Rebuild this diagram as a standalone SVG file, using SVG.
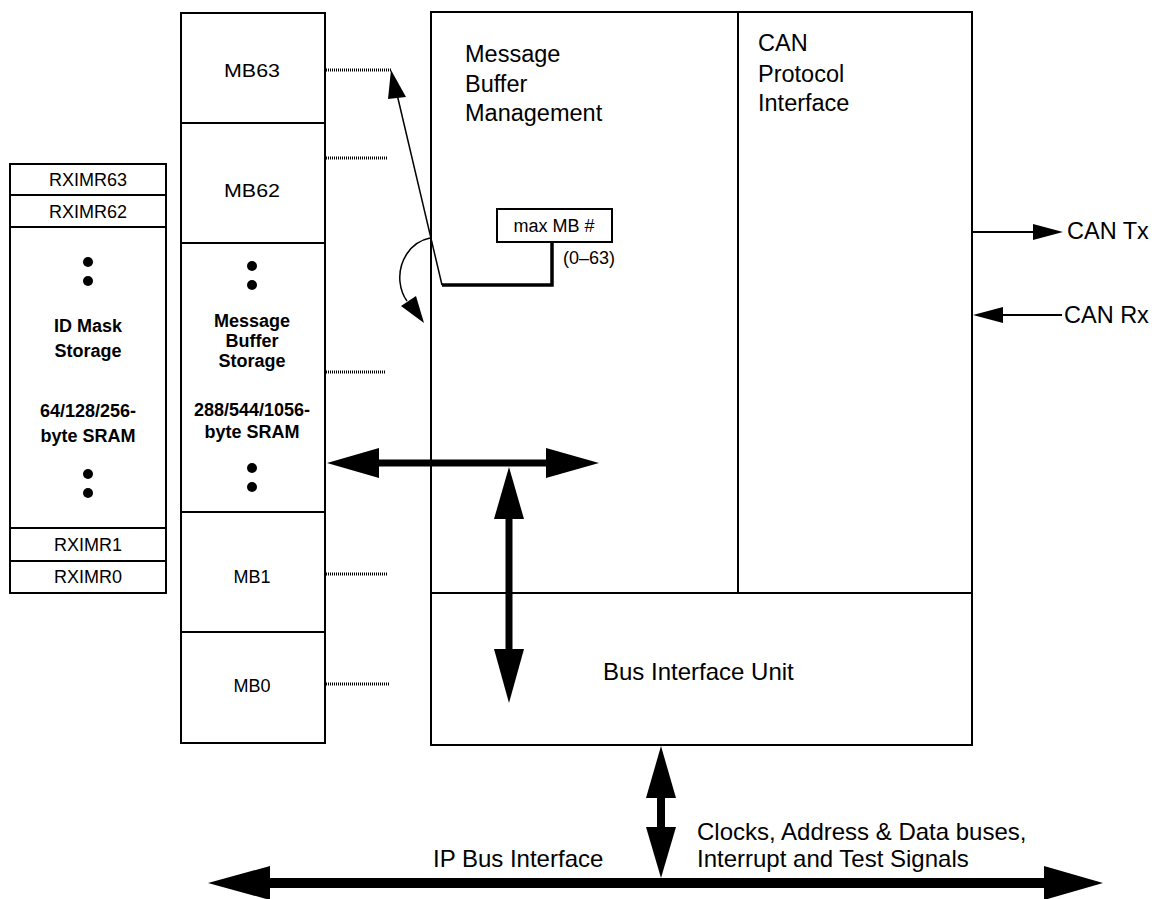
<svg xmlns="http://www.w3.org/2000/svg" width="1156" height="899" viewBox="0 0 1156 899">
<style>
.box{fill:#fff;stroke:#000;stroke-width:2}
.ln{stroke:#000;stroke-width:2;fill:none}
.dot{stroke:#000;stroke-width:3;stroke-dasharray:1 1;fill:none}
.t{font-family:"Liberation Sans",Arial,sans-serif;fill:#000}
.s{font-size:18px;text-anchor:middle}
.b{font-size:18px;font-weight:bold;text-anchor:middle}
.L{font-size:23.5px}
</style>
<g id="idmask">
<rect class="box" x="10" y="164" width="156" height="429"/>
<line class="ln" x1="10" y1="195" x2="166" y2="195"/>
<line class="ln" x1="10" y1="227" x2="166" y2="227"/>
<line class="ln" x1="10" y1="528" x2="166" y2="528"/>
<line class="ln" x1="10" y1="561" x2="166" y2="561"/>
<text class="t s" x="88" y="186">RXIMR63</text>
<text class="t s" x="88" y="218">RXIMR62</text>
<text class="t s" x="88" y="551">RXIMR1</text>
<text class="t s" x="88" y="583">RXIMR0</text>
<circle cx="88" cy="262" r="5"/><circle cx="88" cy="281" r="5"/>
<circle cx="88" cy="474" r="5"/><circle cx="88" cy="493" r="5"/>
<text class="t b" x="88" y="332">ID Mask</text>
<text class="t b" x="88" y="357">Storage</text>
<text class="t b" x="88" y="417">64/128/256-</text>
<text class="t b" x="88" y="442">byte SRAM</text>
</g>
<g id="mbstorage">
<rect class="box" x="181" y="13" width="144" height="730"/>
<line class="ln" x1="181" y1="123" x2="325" y2="123"/>
<line class="ln" x1="181" y1="243" x2="325" y2="243"/>
<line class="ln" x1="181" y1="512" x2="325" y2="512"/>
<line class="ln" x1="181" y1="632" x2="325" y2="632"/>
<text class="t s" x="252" y="77" textLength="56" lengthAdjust="spacingAndGlyphs">MB63</text>
<text class="t s" x="252" y="197" textLength="56" lengthAdjust="spacingAndGlyphs">MB62</text>
<circle cx="252" cy="266" r="5"/><circle cx="252" cy="285" r="5"/>
<text class="t b" x="252" y="327">Message</text>
<text class="t b" x="252" y="347">Buffer</text>
<text class="t b" x="252" y="367">Storage</text>
<text class="t b" x="252" y="416">288/544/1056-</text>
<text class="t b" x="252" y="438">byte SRAM</text>
<circle cx="252" cy="468" r="5"/><circle cx="252" cy="487" r="5"/>
<text class="t s" x="252" y="583">MB1</text>
<text class="t s" x="252" y="692">MB0</text>
</g>
<g id="flexcan">
<rect class="box" x="431" y="12" width="541" height="733"/>
<line class="ln" x1="738" y1="12" x2="738" y2="593"/>
<line class="ln" x1="431" y1="593" x2="972" y2="593"/>
<text class="t L" x="465" y="62">Message</text>
<text class="t L" x="465" y="92">Buffer</text>
<text class="t L" x="465" y="121">Management</text>
<text class="t L" x="758" y="51">CAN</text>
<text class="t L" x="758" y="82">Protocol</text>
<text class="t L" x="758" y="111">Interface</text>
<text class="t" x="603" y="680" font-size="24">Bus Interface Unit</text>
</g>
<g id="maxmb">
<rect class="box" x="497" y="209" width="115" height="33"/>
<text class="t" x="554" y="232" font-size="18" text-anchor="middle">max MB #</text>
<text class="t" x="563" y="264" font-size="18">(0–63)</text>
</g>
<g id="connectors">
<line class="dot" x1="326" y1="70" x2="391" y2="70"/>
<line class="dot" x1="326" y1="158" x2="388" y2="158"/>
<line class="dot" x1="326" y1="372" x2="386" y2="372"/>
<line class="dot" x1="326" y1="574" x2="388" y2="574"/>
<line class="dot" x1="326" y1="684" x2="389" y2="684"/>
<polyline points="552,242 552,285 442,285" fill="none" stroke="#000" stroke-width="3.5"/>
<line x1="442" y1="285" x2="396" y2="90" stroke="#000" stroke-width="1.5"/>
<polygon points="391,70 388,99 406,97"/>
<path d="M430,238 C410,242 398,262 400,282 C401,291 404,297 407,301" fill="none" stroke="#000" stroke-width="1.5"/>
<polygon points="424,323 401,306 416,296"/>
<line x1="972" y1="232" x2="1036" y2="232" stroke="#000" stroke-width="2"/>
<polygon points="1063,232 1033,224 1033,240"/>
<line x1="1062" y1="315" x2="1000" y2="315" stroke="#000" stroke-width="2"/>
<polygon points="973,315 1003,307 1003,323"/>
<line x1="375" y1="463" x2="550" y2="463" stroke="#000" stroke-width="7"/>
<polygon points="327,463 379,448 379,478"/>
<polygon points="599,463 546,448 546,478"/>
<line x1="509" y1="515" x2="509" y2="653" stroke="#000" stroke-width="7"/>
<polygon points="509,467 494,519 524,519"/>
<polygon points="509,703 494,649 524,649"/>
<line x1="661" y1="795" x2="661" y2="830" stroke="#000" stroke-width="8"/>
<polygon points="661,746 646,798 676,798"/>
<polygon points="661,878 646,827 676,827"/>
<line x1="265" y1="883" x2="1048" y2="883" stroke="#000" stroke-width="10"/>
<polygon points="208,883 270,866 270,900"/>
<polygon points="1103,883 1044,866 1044,900"/>
</g>
<text class="t L" x="1067" y="239">CAN Tx</text>
<text class="t L" x="1064" y="323">CAN Rx</text>
<text class="t" x="433" y="867" font-size="24">IP Bus Interface</text>
<text class="t" x="697" y="840" font-size="24">Clocks, Address &amp; Data buses,</text>
<text class="t" x="697" y="867" font-size="24">Interrupt and Test Signals</text>
</svg>
